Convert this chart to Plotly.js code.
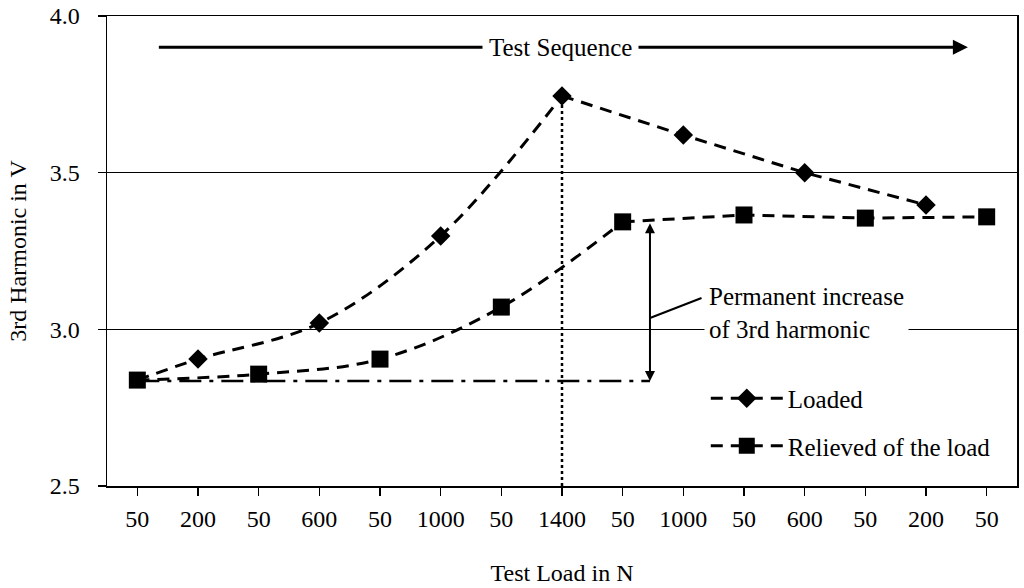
<!DOCTYPE html>
<html>
<head>
<meta charset="utf-8">
<script src="https://cdn.plot.ly/plotly-3.0.1.min.js"></script>
<style>
  html, body { margin: 0; padding: 0; background: #fff; }
  #chart { width: 1024px; height: 588px; }
</style>
</head>
<body>
<div id="chart"></div>
<script>
// Test loads in the order they were applied (N)
var testLoads = ['50', '200', '50', '600', '50', '1000', '50', '1400', '50', '1000', '50', '600', '50', '200', '50'];
var positions = testLoads.map(function(_, i) { return i; });

// 3rd harmonic (V) under load, starts from the first relieved reading
var loadedX = [0, 1, 3, 5, 7, 9, 11, 13];
var loadedY = [2.838, 2.905, 3.02, 3.298, 3.745, 3.62, 3.50, 3.397];

// 3rd harmonic (V) after the load was taken off
var relievedX = [0, 2, 4, 6, 8, 10, 12, 14];
var relievedY = [2.838, 2.857, 2.905, 3.071, 3.343, 3.365, 3.355, 3.359];

// baseline and permanent increase marker
var baseline = 2.835;
var arrowPos = 8.45;

var fontFamily = 'Liberation Serif, Times New Roman, serif';
var font = { family: fontFamily, size: 24, color: '#000' };
var noteFont = { family: fontFamily, size: 25, color: '#000' };
var dashLine = { color: '#000', width: 3, dash: '12px,8px' };

// rising part is curved, the way back down is straight
function lineTrace(xs, ys, from, to, shape) {
    return {
        x: xs.slice(from, to + 1),
        y: ys.slice(from, to + 1),
        mode: 'lines',
        showlegend: false,
        hoverinfo: 'skip',
        line: Object.assign({}, dashLine, shape === 'spline' ? { shape: 'spline', smoothing: 1 } : {})
    };
}

// markers on their own, split by gaps so no extra line is drawn,
// but the legend still shows the dashed line with the symbol
function withGaps(arr) {
    var out = [];
    arr.forEach(function(v, i) {
        if (i > 0) out.push(null);
        out.push(v);
    });
    return out;
}

function markerTrace(xs, ys, name, symbol, size) {
    return {
        x: withGaps(xs),
        y: withGaps(ys),
        mode: 'lines+markers',
        connectgaps: false,
        name: name,
        legendgroup: name,
        line: dashLine,
        marker: { symbol: symbol, color: '#000', size: size, opacity: 1 }
    };
}

var traces = [
    lineTrace(loadedX, loadedY, 0, 4, 'spline'),
    lineTrace(loadedX, loadedY, 4, loadedX.length - 1, 'linear'),
    lineTrace(relievedX, relievedY, 0, 4, 'spline'),
    lineTrace(relievedX, relievedY, 4, relievedX.length - 1, 'linear'),
    markerTrace(loadedX.slice(1), loadedY.slice(1), 'Loaded', 'diamond', 15),
    markerTrace(relievedX, relievedY, 'Relieved of the load', 'square', 17)
];

var layout = {
    width: 1024,
    height: 588,
    font: font,
    paper_bgcolor: '#fff',
    plot_bgcolor: '#fff',
    margin: { l: 107, r: 7, t: 16, b: 102 },
    showlegend: true,
    legend: {
        x: 0.658, y: 0.235, xanchor: 'left', yanchor: 'top',
        font: noteFont, bgcolor: 'rgba(0,0,0,0)',
        tracegroupgap: 12, traceorder: 'grouped', itemwidth: 72
    },
    xaxis: {
        range: [-0.5, 14.5],
        tickvals: positions,
        ticktext: testLoads,
        showgrid: false, zeroline: false,
        showline: true, mirror: true, linecolor: '#000', linewidth: 1.5,
        ticks: 'outside', ticklen: 8, tickcolor: '#000', tickwidth: 1.5,
        ticklabelstandoff: 3,
        title: { text: 'Test Load in N', font: font, standoff: 33 }
    },
    yaxis: {
        range: [2.5, 4.0],
        dtick: 0.5,
        tickformat: '.1f',
        showgrid: true, gridcolor: '#000', gridwidth: 1,
        zeroline: false,
        showline: true, mirror: true, linecolor: '#000', linewidth: 1.5,
        ticks: 'outside', ticklen: 8, tickcolor: '#000', tickwidth: 1.5,
        ticklabelstandoff: 13,
        title: { text: '3rd Harmonic in V', font: font, standoff: 16 }
    },
    shapes: [
        // dotted line under the 1400 N peak
        { type: 'line', xref: 'x', yref: 'y', x0: 7, x1: 7, y0: 2.5, y1: loadedY[4],
          line: { color: '#000', width: 2.5, dash: 'dot' } },
        // initial level
        { type: 'line', xref: 'x', yref: 'y', x0: 0, x1: arrowPos, y0: baseline, y1: baseline,
          line: { color: '#000', width: 2.5, dash: '22px,8px,4px,8px' } },
        // leader to the note
        { type: 'line', xref: 'x', yref: 'y', x0: arrowPos, x1: 9.3, y0: 3.036, y1: 3.10,
          line: { color: '#000', width: 2 } }
    ],
    annotations: [
        // Test sequence arrow
        { x: 13.69, y: 3.90, ax: 0.33, ay: 3.90, axref: 'x', ayref: 'y', xref: 'x', yref: 'y',
          text: '', showarrow: true, arrowhead: 2, arrowsize: 1, arrowwidth: 3, arrowcolor: '#000' },
        { x: 6.97, y: 3.90, xref: 'x', yref: 'y', text: 'Test Sequence', showarrow: false,
          font: noteFont, bgcolor: '#fff', borderpad: 6 },
        // permanent increase double arrow
        { x: arrowPos, y: baseline, ax: arrowPos, ay: relievedY[4], axref: 'x', ayref: 'y', xref: 'x', yref: 'y',
          text: '', showarrow: true, arrowhead: 2, startarrowhead: 2, arrowside: 'end+start',
          arrowsize: 1, arrowwidth: 2, arrowcolor: '#000' },
        { x: 9.3, y: 3.052, xref: 'x', yref: 'y', xanchor: 'left', yanchor: 'middle',
          text: 'Permanent increase<br>of 3rd harmonic', align: 'left', showarrow: false,
          font: noteFont, bgcolor: '#fff', borderpad: 4, xshift: 2 }
    ]
};

Plotly.newPlot('chart', traces, layout, { displayModeBar: false, staticPlot: true });
</script>
</body>
</html>
